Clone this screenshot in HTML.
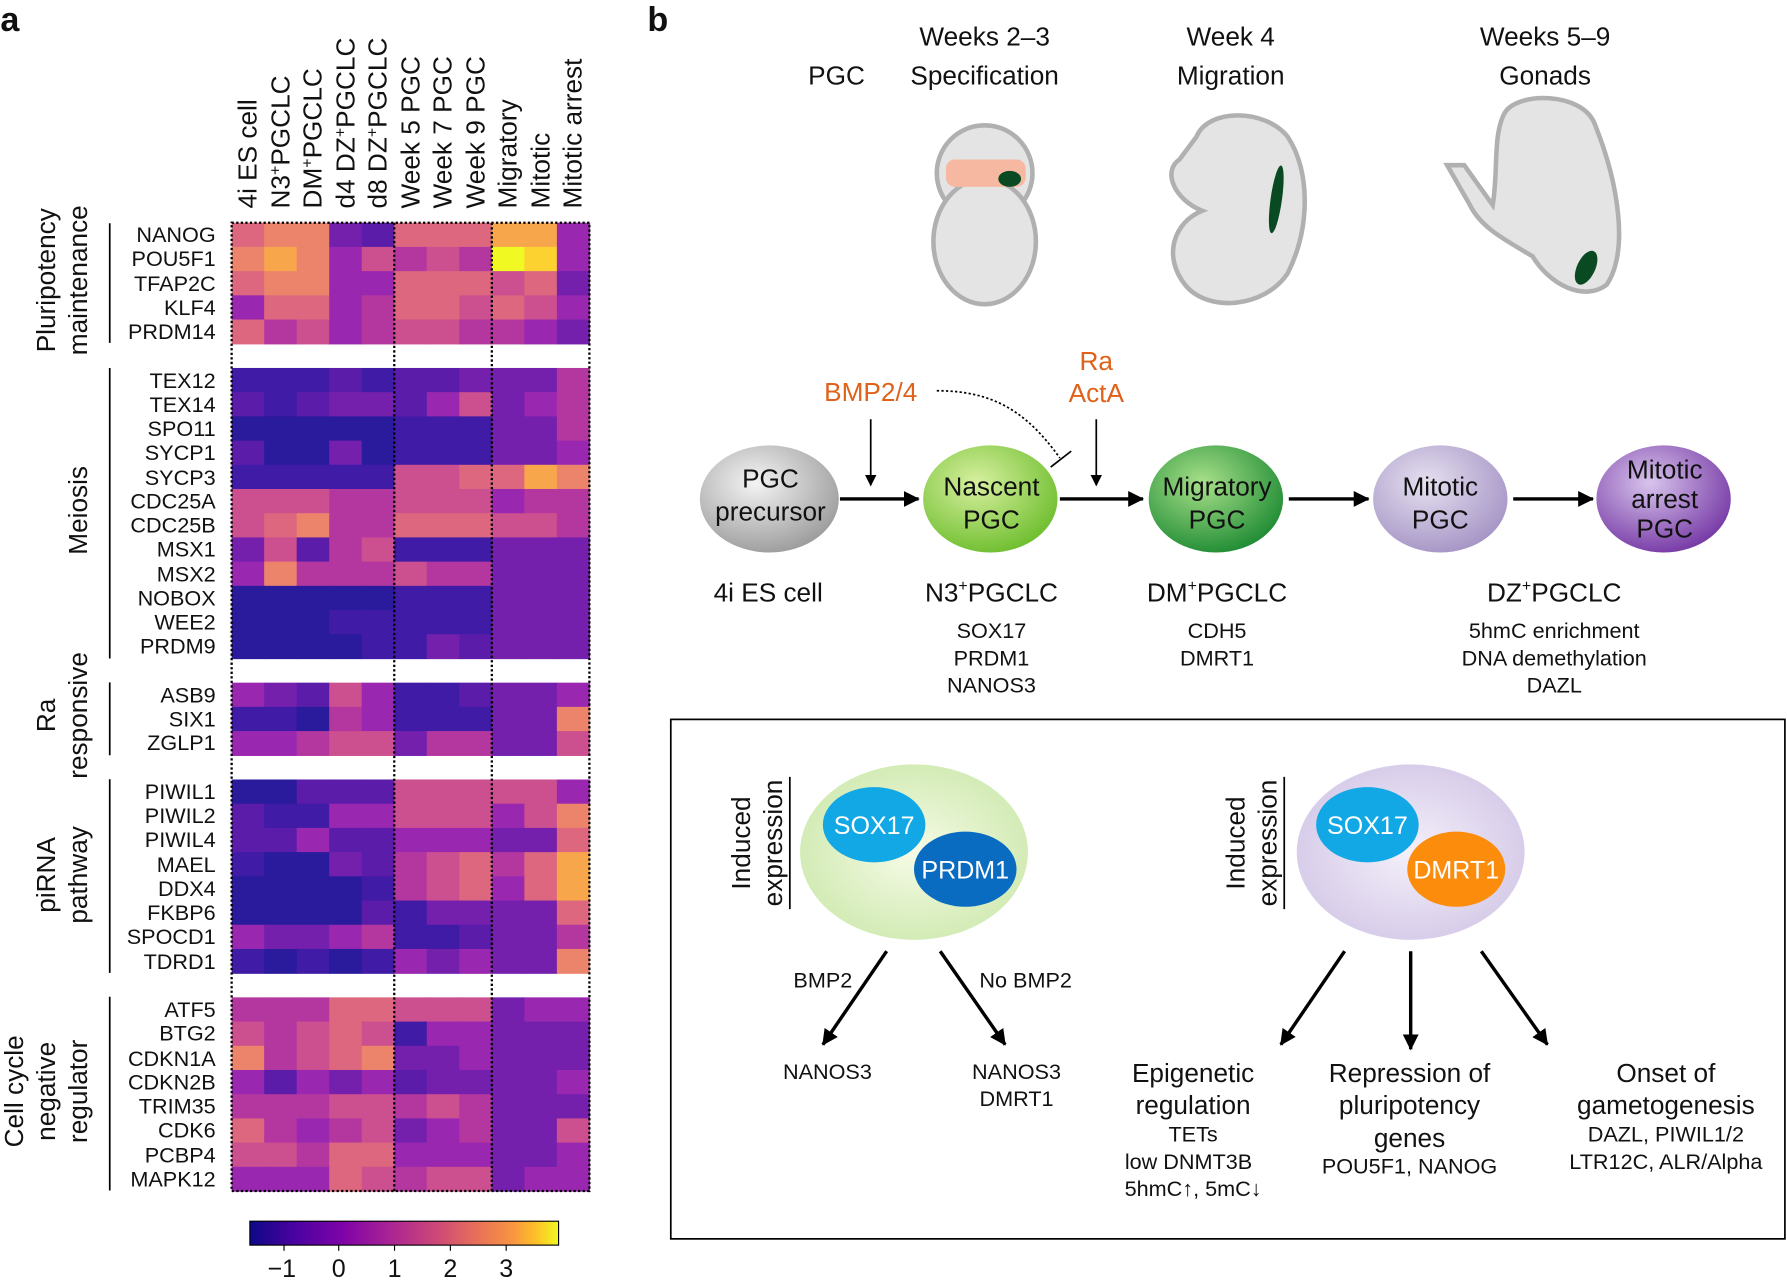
<!DOCTYPE html>
<html><head><meta charset="utf-8"><style>html,body{margin:0;padding:0;background:#fff}svg{display:block}text{font-family:"Liberation Sans",sans-serif;fill:#111}</style></head>
<body>
<svg id="s" width="1787" height="1285" viewBox="0 0 1568 1128" xmlns="http://www.w3.org/2000/svg">
<defs>
<linearGradient id="cb" x1="0" x2="1"><stop offset="0" stop-color="#0d0887"/><stop offset=".15" stop-color="#4c02a1"/><stop offset=".3" stop-color="#7e03a8"/><stop offset=".45" stop-color="#a92395"/><stop offset=".6" stop-color="#cc4778"/><stop offset=".72" stop-color="#e56b5d"/><stop offset=".85" stop-color="#f89441"/><stop offset=".93" stop-color="#fdc328"/><stop offset="1" stop-color="#f0f921"/></linearGradient>
<radialGradient id="g0" cx=".4" cy=".35" r=".7"><stop offset="0" stop-color="#f4f4f4"/><stop offset="1" stop-color="#9a9a9a"/></radialGradient>
<radialGradient id="g1" cx=".4" cy=".35" r=".7"><stop offset="0" stop-color="#d8f0a0"/><stop offset="1" stop-color="#6cbd2c"/></radialGradient>
<radialGradient id="g2" cx=".4" cy=".35" r=".7"><stop offset="0" stop-color="#a8e08a"/><stop offset="1" stop-color="#1c8a32"/></radialGradient>
<radialGradient id="g3" cx=".4" cy=".35" r=".7"><stop offset="0" stop-color="#e6e0f0"/><stop offset="1" stop-color="#a493c4"/></radialGradient>
<radialGradient id="g4" cx=".4" cy=".35" r=".7"><stop offset="0" stop-color="#d8c4ec"/><stop offset="1" stop-color="#7436a4"/></radialGradient>
<radialGradient id="e1" cx=".5" cy=".5" r=".6"><stop offset="0" stop-color="#f6fbe6"/><stop offset="1" stop-color="#cce8ac"/></radialGradient>
<radialGradient id="e2" cx=".5" cy=".5" r=".6"><stop offset="0" stop-color="#f4f0fa"/><stop offset="1" stop-color="#d2c6e6"/></radialGradient>
<marker id="ar" markerWidth="10" markerHeight="10" refX="9" refY="5" orient="auto" markerUnits="userSpaceOnUse"><path d="M0,0 L10,5 L0,10 z" fill="#000"/></marker>
<marker id="ar2" markerWidth="14" markerHeight="14" refX="13" refY="7" orient="auto" markerUnits="userSpaceOnUse"><path d="M0,0 L14,7 L0,14 z" fill="#000"/></marker>
</defs>
<g id="hm"></g>
<text x="0" y="27" font-size="30" font-weight="bold">a</text>
<text x="568" y="27" font-size="30" font-weight="bold">b</text>
<!-- column labels -->
<g font-size="23">
<text transform="translate(225,183) rotate(-90)">4i ES cell</text>
<text transform="translate(254,183) rotate(-90)">N3<tspan font-size="14" dy="-8">+</tspan><tspan dy="8">PGCLC</tspan></text>
<text transform="translate(282,183) rotate(-90)">DM<tspan font-size="14" dy="-8">+</tspan><tspan dy="8">PGCLC</tspan></text>
<text transform="translate(311,183) rotate(-90)">d4 DZ<tspan font-size="14" dy="-8">+</tspan><tspan dy="8">PGCLC</tspan></text>
<text transform="translate(339,183) rotate(-90)">d8 DZ<tspan font-size="14" dy="-8">+</tspan><tspan dy="8">PGCLC</tspan></text>
<text transform="translate(368,183) rotate(-90)">Week 5 PGC</text>
<text transform="translate(396,183) rotate(-90)">Week 7 PGC</text>
<text transform="translate(425,183) rotate(-90)">Week 9 PGC</text>
<text transform="translate(453,183) rotate(-90)">Migratory</text>
<text transform="translate(482,183) rotate(-90)">Mitotic</text>
<text transform="translate(510,183) rotate(-90)">Mitotic arrest</text>
</g>
<g font-size="19" text-anchor="end" dominant-baseline="central">
<text x="189" y="206">NANOG</text><text x="189" y="227">POU5F1</text><text x="189" y="249">TFAP2C</text><text x="189" y="270">KLF4</text><text x="189" y="291">PRDM14</text>
<text x="189" y="334">TEX12</text><text x="189" y="355">TEX14</text><text x="189" y="376">SPO11</text><text x="189" y="397">SYCP1</text><text x="189" y="419">SYCP3</text><text x="189" y="440">CDC25A</text><text x="189" y="461">CDC25B</text><text x="189" y="482">MSX1</text><text x="189" y="504">MSX2</text><text x="189" y="525">NOBOX</text><text x="189" y="546">WEE2</text><text x="189" y="567">PRDM9</text>
<text x="189" y="610">ASB9</text><text x="189" y="631">SIX1</text><text x="189" y="652">ZGLP1</text>
<text x="189" y="695">PIWIL1</text><text x="189" y="716">PIWIL2</text><text x="189" y="737">PIWIL4</text><text x="189" y="759">MAEL</text><text x="189" y="780">DDX4</text><text x="189" y="801">FKBP6</text><text x="189" y="822">SPOCD1</text><text x="189" y="844">TDRD1</text>
<text x="189" y="886">ATF5</text><text x="189" y="907">BTG2</text><text x="189" y="929">CDKN1A</text><text x="189" y="950">CDKN2B</text><text x="189" y="971">TRIM35</text><text x="189" y="992">CDK6</text><text x="189" y="1014">PCBP4</text><text x="189" y="1035">MAPK12</text>
</g>
<g stroke="#000" stroke-width="1.5">
<line x1="96" y1="196" x2="96" y2="301"/><line x1="96" y1="323" x2="96" y2="578"/><line x1="96" y1="599" x2="96" y2="663"/><line x1="96" y1="684" x2="96" y2="854"/><line x1="96" y1="875" x2="96" y2="1045"/>
</g>
<g font-size="23" text-anchor="middle">
<text transform="translate(48,246) rotate(-90)">Pluripotency</text><text transform="translate(76,246) rotate(-90)">maintenance</text>
<text transform="translate(76,448) rotate(-90)">Meiosis</text>
<text transform="translate(48,628) rotate(-90)">Ra</text><text transform="translate(76,628) rotate(-90)">responsive</text>
<text transform="translate(48,768) rotate(-90)">piRNA</text><text transform="translate(76,768) rotate(-90)">pathway</text>
<text transform="translate(20,958) rotate(-90)">Cell cycle</text><text transform="translate(48,958) rotate(-90)">negative</text><text transform="translate(76,958) rotate(-90)">regulator</text>
</g>
<!-- colorbar -->
<rect x="219" y="1072" width="271" height="21" fill="url(#cb)" stroke="#000" stroke-width="1"/>
<g stroke="#000"><line x1="249" y1="1093" x2="249" y2="1098"/><line x1="297" y1="1093" x2="297" y2="1098"/><line x1="346" y1="1093" x2="346" y2="1098"/><line x1="395" y1="1093" x2="395" y2="1098"/><line x1="444" y1="1093" x2="444" y2="1098"/></g>
<g font-size="22" text-anchor="middle"><text x="247" y="1121">−1</text><text x="297" y="1121">0</text><text x="346" y="1121">1</text><text x="395" y="1121">2</text><text x="444" y="1121">3</text></g>

<!-- panel b top -->
<g font-size="23" text-anchor="middle">
<text x="734" y="74">PGC</text>
<text x="864" y="40">Weeks 2–3</text><text x="864" y="74">Specification</text>
<text x="1080" y="40">Week 4</text><text x="1080" y="74">Migration</text>
<text x="1356" y="40">Weeks 5–9</text><text x="1356" y="74">Gonads</text>
</g>
<!-- embryo illustrations -->
<g fill="#e4e4e4" stroke="#b0b0b0" stroke-width="4">
<ellipse cx="864" cy="152" rx="42" ry="42"/>
<ellipse cx="864" cy="212" rx="45" ry="55"/>
<rect x="832" y="142" width="66" height="20" rx="6" fill="#f6b8a0" stroke="#f6b8a0"/>
<path d="M1050,120 C1060,95 1110,95 1130,120 C1150,150 1150,200 1130,240 C1110,270 1060,275 1040,250 C1020,225 1030,195 1055,185 C1030,175 1020,150 1035,140 Z"/>
<path d="M1320,100 C1330,80 1390,80 1400,110 C1420,160 1430,220 1410,250 C1390,265 1360,250 1345,225 C1320,210 1300,200 1290,180 L1270,145 L1285,145 L1310,180 C1315,150 1310,120 1320,100 Z"/>
</g>
<g fill="#0a4a22">
<ellipse cx="886" cy="157" rx="10" ry="7"/>
<ellipse cx="1120" cy="175" rx="5" ry="30" transform="rotate(8 1120 175)"/>
<ellipse cx="1392" cy="235" rx="8" ry="16" transform="rotate(25 1392 235)"/>
</g>

<!-- pathway -->
<ellipse cx="675" cy="438" rx="61" ry="47" fill="url(#g0)"/>
<ellipse cx="869" cy="438" rx="59" ry="47" fill="url(#g1)"/>
<ellipse cx="1067" cy="438" rx="59" ry="47" fill="url(#g2)"/>
<ellipse cx="1264" cy="438" rx="59" ry="47" fill="url(#g3)"/>
<ellipse cx="1460" cy="438" rx="59" ry="47" fill="url(#g4)"/>
<g font-size="23" text-anchor="middle">
<text x="676" y="428">PGC</text><text x="676" y="457">precursor</text>
<text x="870" y="435">Nascent</text><text x="870" y="464">PGC</text>
<text x="1068" y="435">Migratory</text><text x="1068" y="464">PGC</text>
<text x="1264" y="435">Mitotic</text><text x="1264" y="464">PGC</text>
<text x="1461" y="420">Mitotic</text><text x="1461" y="446">arrest</text><text x="1461" y="472">PGC</text>
</g>
<g stroke="#000" stroke-width="3" fill="none">
<line x1="737" y1="438" x2="806" y2="438" marker-end="url(#ar2)"/>
<line x1="930" y1="438" x2="1003" y2="438" marker-end="url(#ar2)"/>
<line x1="1131" y1="438" x2="1201" y2="438" marker-end="url(#ar2)"/>
<line x1="1328" y1="438" x2="1398" y2="438" marker-end="url(#ar2)"/>
</g>
<g stroke="#000" stroke-width="1.5" fill="none">
<line x1="764" y1="368" x2="764" y2="426" marker-end="url(#ar)"/>
<line x1="962" y1="368" x2="962" y2="426" marker-end="url(#ar)"/>
<path d="M822,343 C870,343 900,360 930,402" stroke-dasharray="2,2"/>
<line x1="922" y1="410" x2="940" y2="396"/>
</g>
<g font-size="23" text-anchor="middle" fill="#e0621a">
<text x="764" y="352" style="fill:#e0621a">BMP2/4</text>
<text x="962" y="325" style="fill:#e0621a">Ra</text><text x="962" y="353" style="fill:#e0621a">ActA</text>
</g>
<g font-size="23" text-anchor="middle">
<text x="674" y="528">4i ES cell</text>
<text x="870" y="528">N3<tspan font-size="14" dy="-9">+</tspan><tspan dy="9">PGCLC</tspan></text>
<text x="1068" y="528">DM<tspan font-size="14" dy="-9">+</tspan><tspan dy="9">PGCLC</tspan></text>
<text x="1364" y="528">DZ<tspan font-size="14" dy="-9">+</tspan><tspan dy="9">PGCLC</tspan></text>
</g>
<g font-size="19" text-anchor="middle">
<text x="870" y="560">SOX17</text><text x="870" y="584">PRDM1</text><text x="870" y="608">NANOS3</text>
<text x="1068" y="560">CDH5</text><text x="1068" y="584">DMRT1</text>
<text x="1364" y="560">5hmC enrichment</text><text x="1364" y="584">DNA demethylation</text><text x="1364" y="608">DAZL</text>
</g>
<!-- box -->
<rect x="588.5" y="631.5" width="978" height="456" fill="none" stroke="#000" stroke-width="1.5"/>
<ellipse cx="802" cy="748" rx="100" ry="77" fill="url(#e1)"/>
<ellipse cx="1238" cy="748" rx="100" ry="77" fill="url(#e2)"/>
<ellipse cx="767" cy="724" rx="45" ry="33" fill="#12a8e6"/>
<ellipse cx="847" cy="763" rx="45" ry="33" fill="#0a6cc0"/>
<ellipse cx="1200" cy="724" rx="45" ry="33" fill="#12a8e6"/>
<ellipse cx="1278" cy="763" rx="43" ry="33" fill="#fb8c0c"/>
<g font-size="22" text-anchor="middle">
<text x="767" y="732" style="fill:#fff">SOX17</text><text x="847" y="771" style="fill:#fff">PRDM1</text>
<text x="1200" y="732" style="fill:#fff">SOX17</text><text x="1278" y="771" style="fill:#fff">DMRT1</text>
</g>
<g font-size="23" text-anchor="middle">
<text transform="translate(658,740) rotate(-90)">Induced</text><text transform="translate(686,740) rotate(-90)">expression</text>
<text transform="translate(1092,740) rotate(-90)">Induced</text><text transform="translate(1120,740) rotate(-90)">expression</text>
</g>
<g stroke="#000" stroke-width="1.5"><line x1="693" y1="682" x2="693" y2="798"/><line x1="1127" y1="682" x2="1127" y2="798"/></g>
<g stroke="#000" stroke-width="3" fill="none">
<line x1="778" y1="835" x2="722" y2="917" marker-end="url(#ar2)"/>
<line x1="825" y1="835" x2="882" y2="917" marker-end="url(#ar2)"/>
<line x1="1180" y1="835" x2="1124" y2="917" marker-end="url(#ar2)"/>
<line x1="1238" y1="835" x2="1238" y2="921" marker-end="url(#ar2)"/>
<line x1="1300" y1="835" x2="1358" y2="917" marker-end="url(#ar2)"/>
</g>
<g font-size="19" text-anchor="middle">
<text x="722" y="867">BMP2</text><text x="900" y="867">No BMP2</text>
<text x="726" y="947">NANOS3</text><text x="892" y="947">NANOS3</text><text x="892" y="971">DMRT1</text>
</g>
<g font-size="23" text-anchor="middle">
<text x="1047" y="950">Epigenetic</text><text x="1047" y="978">regulation</text>
<text x="1237" y="950">Repression of</text><text x="1237" y="978">pluripotency</text><text x="1237" y="1007">genes</text>
<text x="1462" y="950">Onset of</text><text x="1462" y="978">gametogenesis</text>
</g>
<g font-size="19" text-anchor="middle">
<text x="1047" y="1002">TETs</text><text x="1043" y="1026">low DNMT3B</text><text x="1047" y="1050">5hmC↑, 5mC↓</text>
<text x="1237" y="1030">POU5F1, NANOG</text>
<text x="1462" y="1002">DAZL, PIWIL1/2</text><text x="1462" y="1026">LTR12C, ALR/Alpha</text>
</g>
</svg>
<script>
var C=["#2a1a9c","#401ba6","#5a1ca9","#7420ad","#9a27b0","#b4379f","#cc4f8f","#dc677f","#ec846c","#f7a64c","#fbd230","#f0f921"];
var rows=[
"78832777994","89846565BA4","78844777673","47745776764","75645665543","-",
"11121223335","21233246345","00000111335","20030111334","11111667798","66655666455","67855777665","36256111333","48555655333","00000111333","00011111333","00001132333","-",
"43264112334","11054111338","44566355336","-",
"00222666664","21144666468","22422444337","10032567579","00001567479","00002133337","43345112335","10101434338","-",
"55577666344","65676144333","85678334333","42434233334","55566565333","75456345336","66577444334","44476566344"];
var g=document.getElementById("hm"),ns="http://www.w3.org/2000/svg",h="";
var x0=203,cw=28.55,y0=195.5,rh=21.25;
for(var r=0;r<rows.length;r++){if(rows[r]=="-")continue;for(var c=0;c<11;c++){var v=parseInt(rows[r][c],16);h+='<rect x="'+(x0+c*cw).toFixed(2)+'" y="'+(y0+r*rh).toFixed(2)+'" width="'+(cw+0.6).toFixed(2)+'" height="'+(rh+0.6).toFixed(2)+'" fill="'+C[v]+'"/>';}}
h+='<g fill="none" stroke="#000" stroke-width="2" stroke-dasharray="2,2"><rect x="'+x0+'" y="'+y0+'" width="'+(cw*11)+'" height="'+(rh*40)+'"/><line x1="'+(x0+5*cw)+'" y1="'+y0+'" x2="'+(x0+5*cw)+'" y2="'+(y0+40*rh)+'"/><line x1="'+(x0+8*cw)+'" y1="'+y0+'" x2="'+(x0+8*cw)+'" y2="'+(y0+40*rh)+'"/></g>';
g.innerHTML=h;
</script>
</body></html>
